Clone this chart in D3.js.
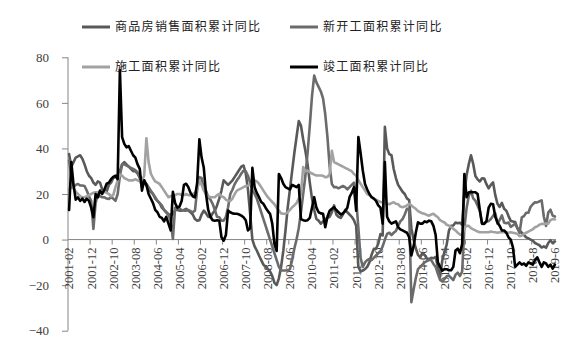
<!DOCTYPE html>
<html><head><meta charset="utf-8">
<script src="https://cdn.jsdelivr.net/npm/d3@7"></script>
<style>body{margin:0;background:#fff}</style>
</head><body>
<svg id="c" width="580" height="356"></svg>
<script>
// ---- data (cumulative YoY, %), monthly 2001-02 .. 2019-06 ----
const seriesNames = ["商品房销售面积累计同比", "新开工面积累计同比", "施工面积累计同比", "竣工面积累计同比"];
const tickLabels = ["2001-02","2001-12","2002-10","2003-08","2004-06","2005-04","2006-02","2006-12","2007-10","2008-08","2009-06","2010-04","2011-02","2011-12","2012-10","2013-08","2014-06","2015-04","2016-02","2016-12","2017-10","2018-8","2019-6"];
const yTicks = [-40, -20, 0, 20, 40, 60, 80];

const sales = [].concat(
 [37.5,32,34,36,36.5,37,35.5,33,30,28,27],
 [25,24,25.5,25,22,21.5,21,24,25,27,27.5,28.5],
 [30,33,34,33,32,31,30,30,29,27,23,26],
 [24,22,21,20,18,17,16,14,13,12,11,11],
 [11,13,13,12.7,12.7,13,13.5,12.7,12,11,9,8.3],
 [8.5,11,12.7,11.5,10,9.8,11.5,12.7,15,18,21.5,26],
 [25,24,25,26,27.5,29,30.5,32,32.5,29,22,11],
 [0,-3,-4.8,-7,-9,-11,-12,-13,-14,-16,-19,-20],
 [-17,-12,-5,4,14,22,30,38,45,52,50,44],
 [39,33,25,18,13,9,8.3,7,8,9,9.5,10],
 [12,15,11,10,9.5,11,13,12,11,10,8.5,6],
 [-12,-14,-13.6,-13,-12,-10,-6.6,-4.1,-4,-1.8,2.4,1.8],
 [49.5,40,37.5,37,31,27,24,22.5,21,20,18,17.3],
 [5,-0.1,-3.8,-6.7,-7.8,-6,-6.7,-8.3,-8.6,-8,-8.2,-7.6],
 [-12,-16.3,-9.2,-5.4,-2.2,3.9,6.1,6.2,7.5,7.2,7.4,6.5],
 [20,28.2,33.1,37,33.2,27.9,26.4,25.5,26.9,26.8,24.3,22.5],
 [24,25.1,19.5,15.7,14.3,16.1,13.5,12.7,10.3,8.2,7.9,7.7],
 [5,4,3,2,1,0.5,0,-0.5,-1.5,-2,-2.5,-3.5],
 [-3,-3.6,-1.5,-0.3,-1.6,-0.8]
);
const newStarts = [].concat(
 [34.7,28,23,24,24.4,23.7,23.7,23.5,21.5,19,17],
 [4.7,16,20,19,18.6,18.5,18,17.8,18.6,18,17,20],
 [28,33,33,32.5,32,31.5,31,30.5,29.5,28,26,24.4],
 [24.5,23,21.5,20,18.6,17,16,15,13,12,11,8],
 [0.3,14,14.2,13.5,13,12.7,12.7,13,12.5,12,12.7,22],
 [27.4,27,22,21.5,18.6,17.5,15.7,13,10,9.8,8.3,8.3],
 [10,14.2,20,22,24.4,26,27.4,29,30.3,30,28,25],
 [22,20,18,15,12,9,6,3,0,-3,-6,-9],
 [-12,-13.6,-13.6,-13.6,-13.6,-13,-9,-4,0,5,12,20],
 [28,38,50,63,72,69,67,65,62,55,45,32],
 [24.4,23,23,22.5,23,23.5,23,22,23,24,25,18],
 [5,-8,-12,-10,-9,-8.5,-9,-8,-7,-6,-5,-3],
 [0,2.5,3,2,3,3.8,6,8,9,11,13.5,13.5],
 [-27.5,-22,-17,-13,-12,-11,-10,-9.5,-9,-9,-10.7,-12],
 [-15,-17.7,-18.4,-17.3,-16.1,-15.8,-16.8,-17.8,-15.4,-14.5,-16,-14],
 [5,13.7,19.2,21.4,18.1,17.1,14.9,12.7,6.9,7.3,8,8.1],
 [9,10.4,11.6,6.9,8.6,10.6,7.4,7.2,7.5,5.6,6.2,7],
 [5,2.9,9.7,10.3,11.8,11.8,14.4,15.5,16.4,16.3,16.8,17.2],
 [10,6,11.9,13.1,10.5,10.1]
);
const underConstruction = [].concat(
 [22,23,22.5,21,20,19,18.6,18.6,19,19.5,20],
 [20.5,20.8,20.8,21,21,21,20.5,20,19,19.5,23,26],
 [28.5,28,27,26.5,26,26,26,26.5,26,25.5,26,28],
 [44.5,34,29,27,25.5,25,24.4,23,21.5,20,18.6,19],
 [19.5,19.5,20,20,19.5,19.5,20,19.5,19.5,20,20.5,22],
 [26,24,21.5,20,19,18.6,18.6,18.6,19.5,20,19,18.6],
 [17.5,17,17,18,20,21.5,22,22.5,23,23.5,23.7,24],
 [25,26,25.5,24.5,23,21.5,20,18.6,17.5,16.5,15.5,14],
 [12.7,11.5,11.3,11.3,12,13,14.2,15,16,18,20,31.8],
 [30,30.3,29.5,29,28.5,28.1,28.1,28.1,28,27.4,27.5,28.8],
 [39,34,33.5,33,32.5,32,31.5,31,30.5,30,28.8,28.1],
 [26,24.5,23,21.5,20,19.5,18.6,18,17.5,17,16.5,16.4],
 [16,15.7,15.5,16,16.4,15.7,15.5,14.5,14.2,14.5,15,15.7],
 [15,14.2,13.5,12.5,12,11.5,11.3,10.8,10.5,11,11.3,10.5],
 [9.8,8.5,8,7.5,6.5,6.1,5.5,4.7,4,3,2.2,2],
 [5,6,6,5,4.5,4,3.5,3.2,3.2,3.2,3.2,3.2],
 [3.5,3.3,3.2,3,3.2,3.3,3.2,3.1,3,3.2,3,2.8],
 [2.5,1.5,1.8,2.5,3,3.5,4,4.5,5.4,5.8,6.5,6.9],
 [6.9,7,7,8.5,9,8.8]
);
const completed = [].concat(
 [13,34,24,17.5,18.5,17,18,16.5,18,17,14],
 [9.8,20,18.5,21.5,20,22,24.5,25,26.5,27.5,28,26.5],
 [74.5,45,42,40.5,41,39,37,36,33,31,21.5,26],
 [24,20,18,16,13,12,10,9.5,8,10,7,4],
 [21,16,14,14.5,17,24,24.5,23,20.5,19,18.5,25],
 [44,36,31.5,20,13,10,8.5,8.3,8.5,8.3,1,-0.5],
 [2,12.7,12,11.5,11.3,11.3,11,10.5,9.8,8.5,4,5],
 [31.5,23,20.5,18.6,16.5,15.7,14,12.5,11.3,7,-2,-5],
 [28.8,27,24.5,23,22.5,22,24,23.5,23,24,9,8.5],
 [8.3,8.5,9.5,14,18.6,14,12,11.5,11.3,5.4,10,12.7],
 [13.5,14.2,13,12,11,11.5,12.5,14,18.6,20.5,23,12.7],
 [45,38,30.3,24.4,22,20,18.6,18,17,15,14,7],
 [34,10,8,7,7.5,8,5.5,4.5,4,3.5,3,1],
 [-7,-3,3,7.6,7,7,8,7.6,8.3,8,6,2],
 [-10,-12,-13.6,-13,-13,-13.5,-13.5,-12,-4.8,-4,-6,-2],
 [28.8,18.6,20.8,20.8,20.8,20.8,20,13,7,6.9,8,14],
 [15.7,15.5,10,7.5,6,4,4,3,1,0,-3.4,-12],
 [-11,-10,-11,-10.5,-11.5,-10,-10.5,-11,-9,-7.8,-10,-12],
 [-10,-10.5,-12,-11,-12.8,-11]
);

// category keys: every month from 2001-02 to 2019-06
const categories = [];
for (let yr = 2001; yr <= 2019; yr++) {
  for (let m = 1; m <= 12; m++) {
    if (yr === 2001 && m < 2) continue;
    if (yr === 2019 && m > 6) break;
    categories.push(yr + "-" + String(m).padStart(2, "0"));
  }
}

const series = [
  {name: seriesNames[0], values: sales, color: "#595959", width: 2.6},
  {name: seriesNames[1], values: newStarts, color: "#6b6b6b", width: 2.6},
  {name: seriesNames[2], values: underConstruction, color: "#a2a2a2", width: 2.6},
  {name: seriesNames[3], values: completed, color: "#000000", width: 2.6}
];

const svg = d3.select("#c");
const x = d3.scaleBand().domain(categories).range([68, 556]).padding(0);
const y = d3.scaleLinear().domain([-40, 80]).range([330.7, 57.3]);
const bw = x.bandwidth();
const axisColor = "#868686";

// y axis
const yAxis = svg.append("g").attr("transform", "translate(68,0)")
  .call(d3.axisLeft(y).tickValues(yTicks).tickSize(6).tickSizeOuter(0).tickPadding(13));
yAxis.select(".domain").remove();
yAxis.selectAll(".tick line").attr("stroke", axisColor);
yAxis.selectAll(".tick text").attr("font-family", "'Liberation Serif', 'Times New Roman', serif")
  .attr("font-size", 13).attr("fill", "#404040");
svg.append("line").attr("x1", 68).attr("x2", 68).attr("y1", y(80)).attr("y2", y(-40))
  .attr("stroke", axisColor).attr("stroke-width", 1);

// x axis at zero
const y0 = y(0);
const xg = svg.append("g");
xg.append("line").attr("x1", 68).attr("x2", 556).attr("y1", y0).attr("y2", y0)
  .attr("stroke", axisColor).attr("stroke-width", 1);
const tickIdx = tickLabels.map((d, k) => k * 10);
xg.selectAll("line.tk").data(tickIdx.slice(1)).join("line").attr("class", "tk")
  .attr("x1", d => x(categories[d])).attr("x2", d => x(categories[d]))
  .attr("y1", y0).attr("y2", y0 + 5).attr("stroke", axisColor);
xg.selectAll("text.lb").data(tickLabels).join("text").attr("class", "lb")
  .attr("transform", (d, k) => `translate(${x(categories[k * 10]) + bw / 2},${y0 + 8}) rotate(-90)`)
  .attr("dy", "0.35em").attr("text-anchor", "end")
  .attr("font-family", "'Liberation Serif', 'Times New Roman', serif")
  .attr("font-size", 12.5).attr("fill", "#404040").text(d => d);

// lines
const line = d3.line().x((d, i) => x(categories[i]) + bw / 2).y(d => y(d));
svg.selectAll("path.series").data(series).join("path").attr("class", "series")
  .attr("d", s => line(s.values)).attr("fill", "none")
  .attr("stroke", s => s.color).attr("stroke-width", s => s.width)
  .attr("stroke-linejoin", "round").attr("stroke-linecap", "round");

// legend
const legendPos = [[82, 27], [290, 27], [82, 67], [290, 67]];
const lg = svg.selectAll("g.lg").data(series).join("g").attr("class", "lg")
  .attr("transform", (d, i) => `translate(${legendPos[i][0]},${legendPos[i][1]})`);
lg.append("line").attr("x1", 0).attr("x2", 28).attr("y1", 0).attr("y2", 0)
  .attr("stroke", d => d.color).attr("stroke-width", 3);
lg.append("text").attr("x", 33).attr("y", 0).attr("dy", "0.36em")
  .attr("font-family", "'Noto Sans CJK SC', sans-serif").attr("font-size", 12)
  .attr("letter-spacing", "1.3px").attr("fill", "#222").text(d => d.name);
</script>
</body></html>
